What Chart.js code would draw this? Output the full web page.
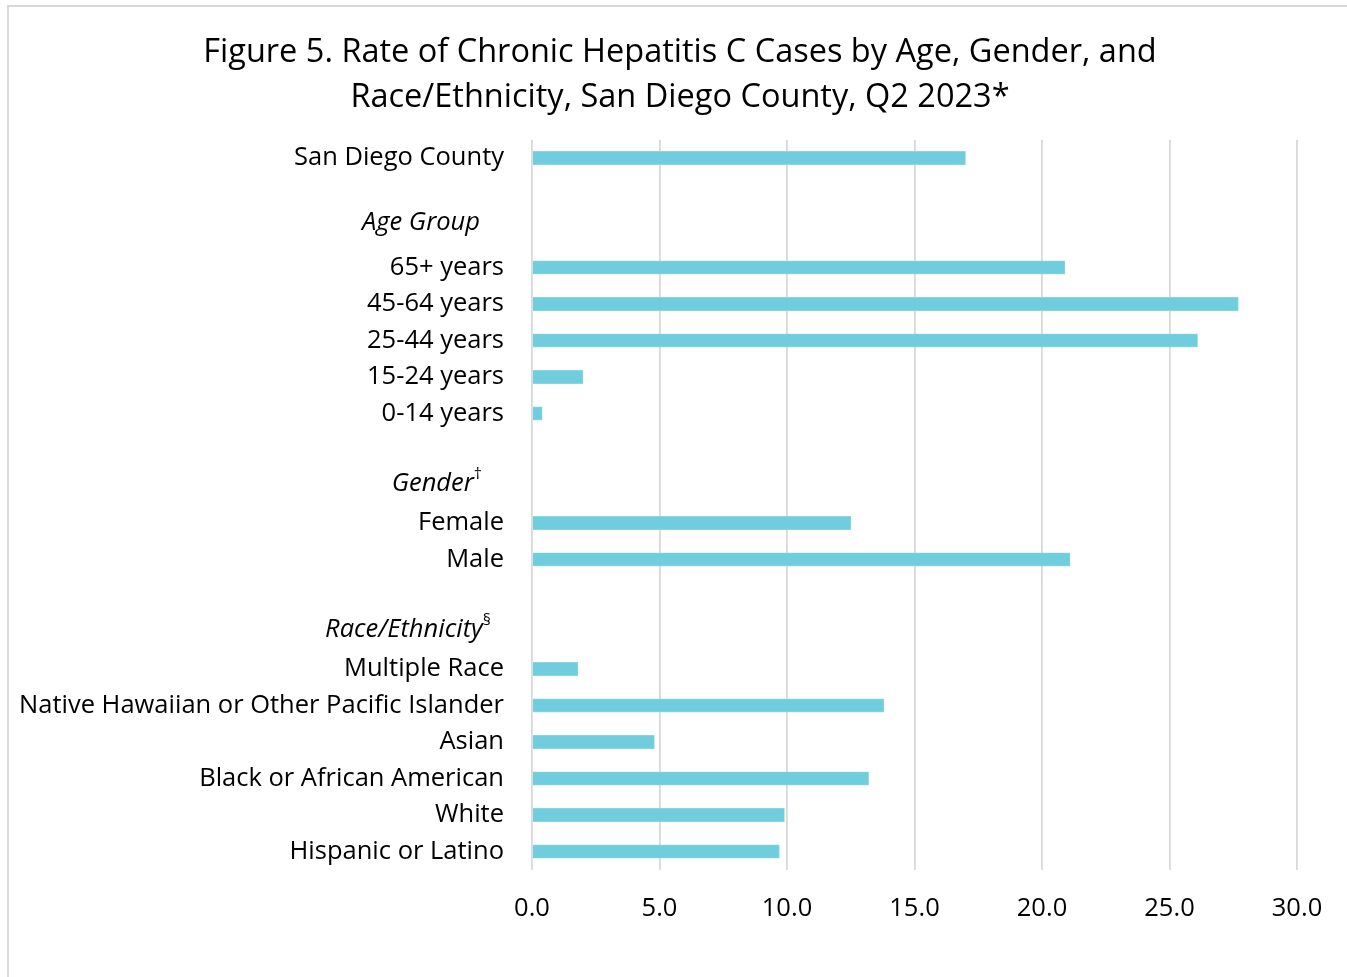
<!DOCTYPE html>
<html>
<head>
<meta charset="utf-8">
<title>Chronic Hepatitis C rates, San Diego County, Q2 2023</title>
<script src="https://cdn.jsdelivr.net/npm/chart.js@4/dist/chart.umd.min.js"></script>
<style>
  html, body { margin: 0; padding: 0; background: #ffffff; overflow: hidden; }
  #frame {
    position: absolute; left: 7px; top: 5px; width: 1400px; height: 1000px;
    border-left: 2px solid #d9d9d9; border-top: 2px solid #d9d9d9;
  }
  #wrap { position: absolute; left: 9px; top: 7px; width: 1342px; height: 970px; }
</style>
</head>
<body>
<div id="frame"></div>
<div id="wrap"><canvas id="chart" width="1342" height="970"></canvas></div>
<script>
// Row labels, top to bottom (empty strings are spacer rows)
const categories = [
  'San Diego County', '',
  'Age Group', '65+ years', '45-64 years', '25-44 years', '15-24 years', '0-14 years', '',
  'Gender', 'Female', 'Male', '',
  'Race/Ethnicity', 'Multiple Race', 'Native Hawaiian or Other Pacific Islander', 'Asian',
  'Black or African American', 'White', 'Hispanic or Latino'
];

// Rate per 100,000 population (null = no bar on that row)
const rates = [
  17.0, null,
  null, 20.9, 27.7, 26.1, 2.0, 0.4, null,
  null, 12.5, 21.1, null,
  null, 1.8, 13.8, 4.8, 13.2, 9.9, 9.7
];

// Group headings and their footnote marks
const headerRows = ['Age Group', 'Gender', 'Race/Ethnicity'];
const headerMarks = ['', '\u2020', '\u00A7'];

// X axis tick values
const xTicks = [0, 5, 10, 15, 20, 25, 30];

const titleLines = [
  'Figure 5. Rate of Chronic Hepatitis C Cases by Age, Gender, and',
  'Race/Ethnicity, San Diego County, Q2 2023*'
];

const FONT = '"Open Sans", Lato, sans-serif';

// Draws the row labels (plain, italic headings, superscript marks)
const rowLabels = {
  id: 'rowLabels',
  afterDraw(chart, args, opts) {
    const { ctx } = chart;
    const y = chart.scales.y;
    const xRight = y.right - opts.gap;
    ctx.save();
    ctx.fillStyle = opts.color;
    ctx.textBaseline = 'middle';
    ctx.textAlign = 'right';
    categories.forEach((label, i) => {
      if (!label) return;
      const yPix = y.getPixelForValue(i);
      const h = headerRows.indexOf(label);
      if (h < 0) {
        ctx.font = `${opts.size}px ${FONT}`;
        ctx.fillText(label, xRight, yPix);
        return;
      }
      const mark = headerMarks[h];
      const right = xRight - opts.headerPad[h];
      const yy = yPix + opts.headerShift[h];
      let mw = 0;
      if (mark) {
        ctx.font = `${opts.markSize}px ${FONT}`;
        mw = ctx.measureText(mark).width;
        ctx.fillText(mark, right, yy - opts.markRaise);
      }
      ctx.font = `italic ${opts.size}px ${FONT}`;
      ctx.fillText(label, right - mw, yy);
    });
    ctx.restore();
  }
};

new Chart(document.getElementById('chart'), {
  type: 'bar',
  data: {
    labels: categories,
    datasets: [{
      data: rates,
      backgroundColor: '#70cddd',
      borderColor: '#8fd8e5',
      borderWidth: 0.8,
      borderSkipped: 'start',
      barThickness: 13.5
    }]
  },
  options: {
    indexAxis: 'y',
    responsive: false,
    devicePixelRatio: 1,
    animation: false,
    // equal side padding keeps the title centred on the whole canvas
    layout: { padding: { left: 54, right: 54, top: 0, bottom: 0 } },
    plugins: {
      legend: { display: false },
      tooltip: { enabled: false },
      title: {
        display: true,
        text: titleLines,
        color: '#000000',
        font: { family: FONT, size: 32.5, weight: 'normal', lineHeight: 1.385 },
        padding: { top: 23, bottom: 19.75 }
      },
      rowLabels: {
        gap: 28,
        size: 25.5,
        markSize: 16,
        markRaise: 9,
        color: '#000000',
        headerPad: [24, 22, 13],
        headerShift: [-8, -3, -3]
      }
    },
    scales: {
      x: {
        type: 'linear',
        position: 'bottom',
        min: 0,
        max: 30,
        afterBuildTicks(scale) { scale.ticks = xTicks.map(v => ({ value: v })); },
        afterFit(scale) { scale.height = 107.25; },
        grid: { color: '#d9d9d9', lineWidth: 1.8, drawTicks: false },
        border: { display: false },
        ticks: {
          padding: 24,
          color: '#000000',
          font: { family: FONT, size: 25.5 },
          callback: v => Number(v).toFixed(1)
        }
      },
      y: {
        type: 'category',
        offset: true,
        afterFit(scale) { scale.width = 469; },
        grid: { display: false },
        border: { display: false },
        ticks: { display: false }
      }
    }
  },
  plugins: [rowLabels]
});
</script>
</body>
</html>
